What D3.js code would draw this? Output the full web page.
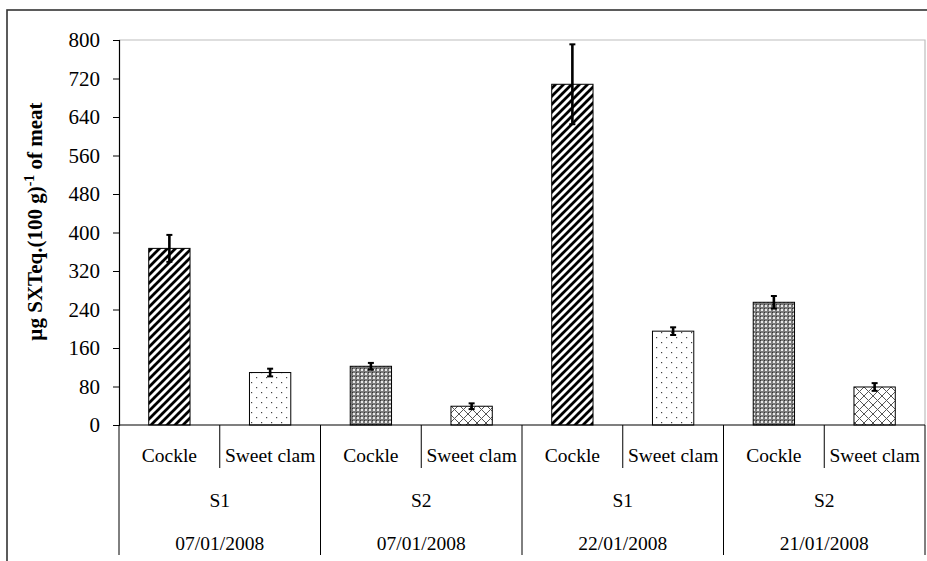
<!DOCTYPE html>
<html>
<head>
<meta charset="utf-8">
<script src="https://cdn.jsdelivr.net/npm/d3@7"></script>
<style>
  html, body { margin: 0; padding: 0; background: #fff; }
  svg { display: block; font-family: "Liberation Serif", "Times New Roman", serif; }
</style>
</head>
<body>
<svg id="chart" width="927" height="561"></svg>
<script>
// ---- data ----
const species = ["Cockle", "Sweet clam", "Cockle", "Sweet clam", "Cockle", "Sweet clam", "Cockle", "Sweet clam"];
const sites = ["S1", "S2", "S1", "S2"];
const dates = ["07/01/2008", "07/01/2008", "22/01/2008", "21/01/2008"];
const values = [367, 109, 122, 39, 708, 195, 255, 79];
const errors = [28, 8, 7, 6, 83, 8, 13, 8];
const yTicks = [0, 80, 160, 240, 320, 400, 480, 560, 640, 720, 800];

// ---- layout ----
const svg = d3.select("#chart");
const plotL = 119, plotR = 925, plotT = 40, plotB = 425;
const fontSize = 19.5;

const x = d3.scaleBand().domain(d3.range(values.length)).range([plotL, plotR]).padding(0);
const xg = d3.scaleBand().domain(d3.range(sites.length)).range([plotL, plotR]).padding(0);
const y = d3.scaleLinear().domain([0, 800]).range([plotB, plotT]);

// ---- patterns ----
const defs = svg.append("defs");
const p1 = defs.append("pattern").attr("id", "hatch").attr("patternUnits", "userSpaceOnUse")
  .attr("width", 8).attr("height", 8);
p1.append("rect").attr("width", 8).attr("height", 8).attr("fill", "#fff");
p1.append("path").attr("d", "M-2,2 l4,-4 M0,8 l8,-8 M6,10 l4,-4")
  .attr("stroke", "#000").attr("stroke-width", 2.8);
const p2 = defs.append("pattern").attr("id", "dots").attr("patternUnits", "userSpaceOnUse")
  .attr("width", 10).attr("height", 10);
p2.append("rect").attr("width", 10).attr("height", 10).attr("fill", "#fff");
p2.append("rect").attr("x", 1).attr("y", 2).attr("width", 1.2).attr("height", 1.2).attr("fill", "#444");
p2.append("rect").attr("x", 6).attr("y", 7).attr("width", 1.2).attr("height", 1.2).attr("fill", "#444");
const p3 = defs.append("pattern").attr("id", "checker").attr("patternUnits", "userSpaceOnUse")
  .attr("width", 4).attr("height", 4);
p3.append("rect").attr("width", 4).attr("height", 4).attr("fill", "#7a7a7a");
p3.append("rect").attr("x", 1).attr("y", 1).attr("width", 2).attr("height", 2).attr("fill", "#e8e8e8");
p3.append("rect").attr("x", 0).attr("y", 0).attr("width", 1).attr("height", 1).attr("fill", "#333");
const p4 = defs.append("pattern").attr("id", "cross").attr("patternUnits", "userSpaceOnUse")
  .attr("width", 9).attr("height", 9);
p4.append("rect").attr("width", 9).attr("height", 9).attr("fill", "#fff");
p4.append("path").attr("d", "M0,0 L9,9 M9,0 L0,9")
  .attr("stroke", "#555").attr("stroke-width", 1);

const patternFor = (i) => {
  const site = sites[Math.floor(i / 2)];
  const isCockle = species[i] === "Cockle";
  if (site === "S1") return isCockle ? "hatch" : "dots";
  return isCockle ? "checker" : "cross";
};

// ---- outer frame ----
svg.append("rect").attr("x", 7).attr("y", 10).attr("width", 930).attr("height", 570)
  .attr("fill", "none").attr("stroke", "#333").attr("stroke-width", 1.6);

// ---- plot area border (light) ----
svg.append("path").attr("d", `M${plotL},${plotT}H${plotR}V${plotB}`)
  .attr("fill", "none").attr("stroke", "#bdbdbd").attr("stroke-width", 1.2);

// ---- y axis ----
const yAxis = d3.axisLeft(y).tickValues(yTicks).tickSize(6).tickPadding(13).tickFormat(d3.format("d"));
const gy = svg.append("g").attr("transform", `translate(${plotL},0)`).call(yAxis)
  .attr("font-family", "Liberation Serif, serif").attr("font-size", 21);
gy.select(".domain").attr("stroke", "#000").attr("stroke-width", 1.2);
gy.selectAll(".tick line").attr("stroke", "#000");
gy.selectAll(".tick text").attr("fill", "#000");

// y label
const yl = svg.append("text")
  .attr("transform", `translate(42,${(plotT + plotB) / 2 - 11}) rotate(-90)`)
  .attr("text-anchor", "middle").attr("font-weight", "bold").attr("font-size", 21);
yl.append("tspan").text("µg SXTeq.(100 g)");
yl.append("tspan").attr("dy", -8).attr("font-size", 14).text("-1");
yl.append("tspan").attr("dy", 8).text(" of meat");

// ---- bars ----
const barW = x.bandwidth() * 0.41;
svg.append("g").selectAll("rect").data(values).join("rect")
  .attr("x", (d, i) => x(i) + (x.bandwidth() - barW) / 2)
  .attr("y", d => y(d))
  .attr("width", barW)
  .attr("height", d => y(0) - y(d))
  .attr("fill", (d, i) => `url(#${patternFor(i)})`)
  .attr("stroke", "#000").attr("stroke-width", 1);

// ---- error bars ----
const eb = svg.append("g").attr("stroke", "#000").attr("stroke-width", 2.6);
values.forEach((v, i) => {
  const cx = x(i) + x.bandwidth() / 2;
  eb.append("line").attr("x1", cx).attr("x2", cx).attr("y1", y(v + errors[i])).attr("y2", y(v - errors[i]));
  eb.append("line").attr("x1", cx - 3).attr("x2", cx + 3).attr("y1", y(v + errors[i])).attr("y2", y(v + errors[i])).attr("stroke-width", 2);
  eb.append("line").attr("x1", cx - 3).attr("x2", cx + 3).attr("y1", y(v - errors[i])).attr("y2", y(v - errors[i])).attr("stroke-width", 2);
});

// ---- category axis ----
svg.append("line").attr("x1", plotL).attr("x2", plotR).attr("y1", plotB).attr("y2", plotB)
  .attr("stroke", "#000").attr("stroke-width", 1.2);

const cat = svg.append("g");
d3.range(values.length).forEach(i => {
  if (i % 2 === 1) {
    cat.append("line").attr("x1", x(i)).attr("x2", x(i)).attr("y1", plotB).attr("y2", 468)
      .attr("stroke", "#000").attr("stroke-width", 1);
  }
});
d3.range(sites.length + 1).forEach(g => {
  const gx = g < sites.length ? xg(g) : plotR;
  cat.append("line").attr("x1", gx).attr("x2", gx).attr("y1", plotB).attr("y2", 555)
    .attr("stroke", "#000").attr("stroke-width", 1);
});

cat.selectAll("text.sp").data(species).join("text").attr("class", "sp")
  .attr("x", (d, i) => x(i) + x.bandwidth() / 2).attr("y", 462)
  .attr("text-anchor", "middle").attr("font-size", fontSize).text(d => d);
cat.selectAll("text.site").data(sites).join("text").attr("class", "site")
  .attr("x", (d, i) => xg(i) + xg.bandwidth() / 2).attr("y", 507)
  .attr("text-anchor", "middle").attr("font-size", fontSize).text(d => d);
cat.selectAll("text.date").data(dates).join("text").attr("class", "date")
  .attr("x", (d, i) => xg(i) + xg.bandwidth() / 2).attr("y", 550)
  .attr("text-anchor", "middle").attr("font-size", fontSize).text(d => d);
</script>
</body>
</html>
